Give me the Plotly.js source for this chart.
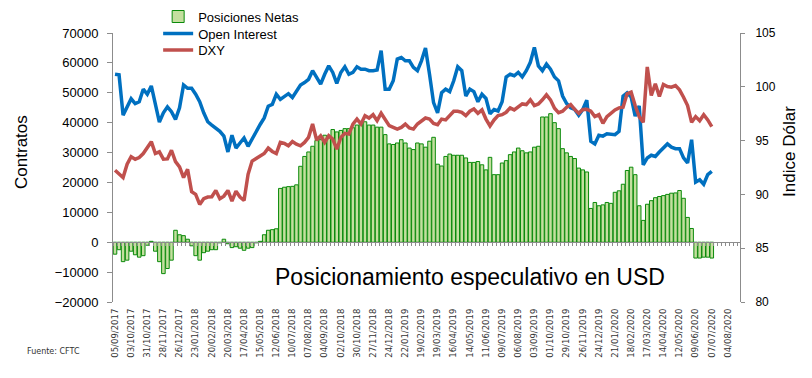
<!DOCTYPE html>
<html>
<head>
<meta charset="utf-8">
<script src="https://cdn.plot.ly/plotly-3.0.1.min.js"></script>
<style>
  html, body { margin: 0; padding: 0; background: #ffffff; }
  #chart { width: 812px; height: 378px; }
</style>
</head>
<body>
<div id="chart"></div>
<script>
// Tick labels shown on the category axis (every 4th week)
const tickLabels = [
  "05/09/2017","03/10/2017","31/10/2017","28/11/2017","26/12/2017",
  "23/01/2018","20/02/2018","20/03/2018","17/04/2018","15/05/2018",
  "12/06/2018","10/07/2018","07/08/2018","04/09/2018","02/10/2018",
  "30/10/2018","27/11/2018","24/12/2018","22/01/2019","19/02/2019",
  "19/03/2019","16/04/2019","14/05/2019","11/06/2019","09/07/2019",
  "06/08/2019","03/09/2019","01/10/2019","29/10/2019","26/11/2019",
  "24/12/2019","21/01/2020","18/02/2020","17/03/2020","14/04/2020",
  "12/05/2020","09/06/2020","07/07/2020","04/08/2020"
];

// Posiciones Netas (contratos), weekly
const posicionesNetas = [
  -4000,-2500,-6500,-6000,-3000,-4200,-5000,-4500,-1000,300,
  -3000,-6500,-10500,-8800,-6000,4000,2500,2200,1000,-1200,
  -4500,-6000,-3500,-3000,-2500,-2500,-200,1000,-500,-1800,
  -1500,-2000,-2700,-2000,-1800,-200,300,2500,4000,4200,
  4500,18000,18400,18600,18700,19200,25400,28700,30200,32100,
  34000,34300,35800,34900,37700,36900,37400,38000,38000,38300,
  39200,39400,40300,39200,39200,38500,38500,36000,32900,32700,
  33200,34300,33200,31500,31000,33200,32900,31800,33800,35100,
  26100,25500,28700,29500,29100,29100,29100,28200,26700,26700,
  27000,25900,24200,28400,22600,22600,26500,27300,29300,30200,
  31500,30600,29900,30200,31800,32100,41900,41900,43000,40000,
  38000,31300,29900,28700,28000,24800,24200,23500,11300,13300,
  12200,12500,13300,13000,16700,17200,19400,24000,25100,22600,
  12200,7300,12700,13900,14900,15300,15600,16000,16400,16500,
  17300,14700,8300,4600,-5300,-5300,-5000,-5000,-5300
];

// Open Interest (contratos), weekly
const openInterest = [
  56200,56000,42500,45200,48000,46400,47000,51200,49500,52300,
  45600,40200,43300,45300,43700,41100,45000,52600,51500,51500,
  49500,47000,43300,40300,39200,38000,37100,35500,30200,35800,
  31500,33200,34900,32100,34700,36900,39400,41600,45500,46100,
  49500,47800,48900,49700,48400,50600,52600,53400,54500,57400,
  55100,52900,56200,59000,56800,53100,56800,58700,56200,56800,
  58700,57900,57900,57400,57400,57600,64100,51200,51200,54000,
  61300,61800,60700,60700,58500,57400,60700,65000,56200,46700,
  43300,50000,51200,50400,54000,58700,57400,48900,51200,50400,
  47000,49500,48100,43000,44400,43900,47000,55300,56200,55700,
  56800,55300,57400,60200,65200,59000,57400,59600,57900,55300,
  54000,48900,46400,45000,44400,42500,44400,47500,33800,32900,
  35800,35500,36300,36000,36000,37100,48900,50000,48600,42200,
  45600,25900,28200,29100,28700,30200,31500,32900,31800,31300,
  31300,28200,26500,34300,20100,20900,19400,22600,23700
];

// DXY (Índice Dólar), weekly
const dxy = [
  92.24,91.87,91.56,92.80,93.50,93.27,93.43,93.80,94.40,94.90,
  93.80,93.96,93.27,93.30,94.10,93.05,92.55,91.56,92.34,90.25,
  90.00,89.07,89.60,89.75,89.78,90.37,89.60,89.84,90.37,89.38,
  90.30,89.75,89.44,91.87,93.10,93.36,93.60,93.80,94.30,93.99,
  93.80,94.83,94.74,94.52,94.92,94.67,94.52,94.83,95.30,96.54,
  95.05,95.45,94.83,95.45,95.14,94.20,95.30,95.67,95.60,96.54,
  97.00,96.54,97.32,97.10,97.41,96.85,97.54,97.00,96.39,96.23,
  96.07,96.23,96.54,96.17,96.07,96.54,96.85,97.10,97.01,96.60,
  96.48,97.00,96.92,97.32,97.73,97.73,97.63,97.32,97.73,97.94,
  97.54,97.85,97.00,96.36,96.92,97.32,97.41,97.63,98.04,97.85,
  98.10,98.41,98.35,98.79,98.26,98.41,98.79,99.25,98.79,98.00,
  97.60,97.73,98.10,98.35,97.90,97.54,97.90,97.91,97.73,97.23,
  97.41,96.60,97.23,97.54,97.85,98.04,98.10,99.35,99.50,98.26,
  97.23,96.70,101.84,99.19,100.28,99.10,100.22,100.03,99.97,100.12,
  99.72,99.03,98.26,96.70,97.23,96.85,97.41,96.92,96.29
];

const weekIndex = posicionesNetas.map((_, i) => i);
const tickPositions = tickLabels.map((_, k) => k * 4);

const Y_MIN = -20000, Y_MAX = 70000;
const X_RANGE = [-0.5, 155.0];
const axisGrey = '#8c8c8c';
const fontFam = 'Liberation Sans, Arial, sans-serif';

const traces = [
  {
    type: 'bar', name: 'Posiciones Netas',
    x: weekIndex, y: posicionesNetas,
    marker: { color: '#c4df9f', line: { color: '#0a8a0a', width: 1 } },
    xaxis: 'x', yaxis: 'y', legend: 'legend'
  },
  {
    type: 'scatter', mode: 'lines', name: 'Open Interest',
    x: weekIndex, y: openInterest,
    line: { color: '#0070c0', width: 3.5 },
    xaxis: 'x', yaxis: 'y', legend: 'legend2'
  },
  {
    type: 'scatter', mode: 'lines', name: 'DXY',
    x: weekIndex, y: dxy,
    line: { color: '#c0504d', width: 3.5 },
    xaxis: 'x', yaxis: 'y2', legend: 'legend3'
  },
  {
    // carrier for the bottom label axis
    type: 'scatter', mode: 'none', x: weekIndex, y: posicionesNetas,
    xaxis: 'x2', yaxis: 'y', showlegend: false, hoverinfo: 'skip'
  }
];

const PLOT_TOP = 33.4, PLOT_H = 268.3;
const legendAt = (cy) => ({
  x: 0.072, y: 1 + (PLOT_TOP - cy) / PLOT_H, xanchor: 'left', yanchor: 'middle',
  font: { family: fontFam, size: 13, color: '#000000' },
  bgcolor: 'rgba(0,0,0,0)', itemwidth: 30
});

const layout = {
  width: 812, height: 378,
  margin: { l: 113, r: 72, t: PLOT_TOP, b: 378 - PLOT_TOP - PLOT_H, pad: 0, autoexpand: false },
  paper_bgcolor: '#ffffff', plot_bgcolor: '#ffffff',
  font: { family: fontFam, color: '#000000' },
  bargap: 0.12,
  showlegend: true,
  legend: legendAt(17),
  legend2: legendAt(34),
  legend3: legendAt(50.5),
  xaxis: {
    type: 'linear', range: X_RANGE,
    anchor: 'free', position: (0 - Y_MIN) / (Y_MAX - Y_MIN),
    showline: true, linecolor: axisGrey, linewidth: 1,
    ticks: 'outside', ticklen: 3, tickcolor: axisGrey, tickwidth: 1,
    tick0: 0.5, dtick: 1, showticklabels: false,
    showgrid: false, zeroline: false, fixedrange: true
  },
  xaxis2: {
    type: 'linear', range: X_RANGE, overlaying: 'x', anchor: 'y', side: 'bottom',
    tickmode: 'array', tickvals: tickPositions, ticktext: tickLabels,
    tickangle: -90, ticks: '', showline: false, showgrid: false, zeroline: false,
    tickfont: { family: 'DejaVu Sans, Verdana, sans-serif', size: 8.5, color: '#333333' },
    ticklabelstandoff: 4
  },
  yaxis: {
    range: [Y_MIN, Y_MAX], dtick: 10000, tick0: 0, tickformat: 'd',
    showline: true, linecolor: axisGrey, linewidth: 1,
    ticks: 'outside', ticklen: 5, tickcolor: axisGrey,
    showgrid: false, zeroline: false,
    tickfont: { family: fontFam, size: 13, color: '#000000' },
    ticklabelstandoff: 6
  },
  yaxis2: {
    range: [80, 105], dtick: 5, tick0: 80, overlaying: 'y', side: 'right', anchor: 'x',
    showline: true, linecolor: axisGrey, linewidth: 1,
    ticks: 'outside', ticklen: 4, tickcolor: axisGrey,
    showgrid: false, zeroline: false,
    tickfont: { family: fontFam, size: 12, color: '#000000' },
    ticklabelstandoff: 8
  },
  annotations: [
    {
      text: 'Contratos', textangle: -90,
      xref: 'paper', yref: 'paper', x: (22 - 113) / 627, y: (301.7 - 152) / PLOT_H,
      xanchor: 'center', yanchor: 'middle', showarrow: false,
      font: { family: fontFam, size: 17, color: '#000000' }
    },
    {
      text: 'Indice Dólar', textangle: -90,
      xref: 'paper', yref: 'paper', x: (790 - 113) / 627, y: (301.7 - 152) / PLOT_H,
      xanchor: 'center', yanchor: 'middle', showarrow: false,
      font: { family: fontFam, size: 17, color: '#000000' }
    },
    {
      text: 'Posicionamiento especulativo en USD',
      xref: 'paper', yref: 'paper', x: 0.569, y: 0.092,
      xanchor: 'center', yanchor: 'middle', showarrow: false,
      font: { family: fontFam, size: 23, color: '#000000' }
    },
    {
      text: 'Fuente: CFTC',
      xref: 'paper', yref: 'paper', x: -0.141, y: -0.185,
      xanchor: 'left', yanchor: 'middle', showarrow: false,
      font: { family: 'DejaVu Sans, Verdana, sans-serif', size: 8, color: '#333333' }
    }
  ]
};

Plotly.newPlot('chart', traces, layout, { staticPlot: true, displayModeBar: false });
</script>
</body>
</html>
